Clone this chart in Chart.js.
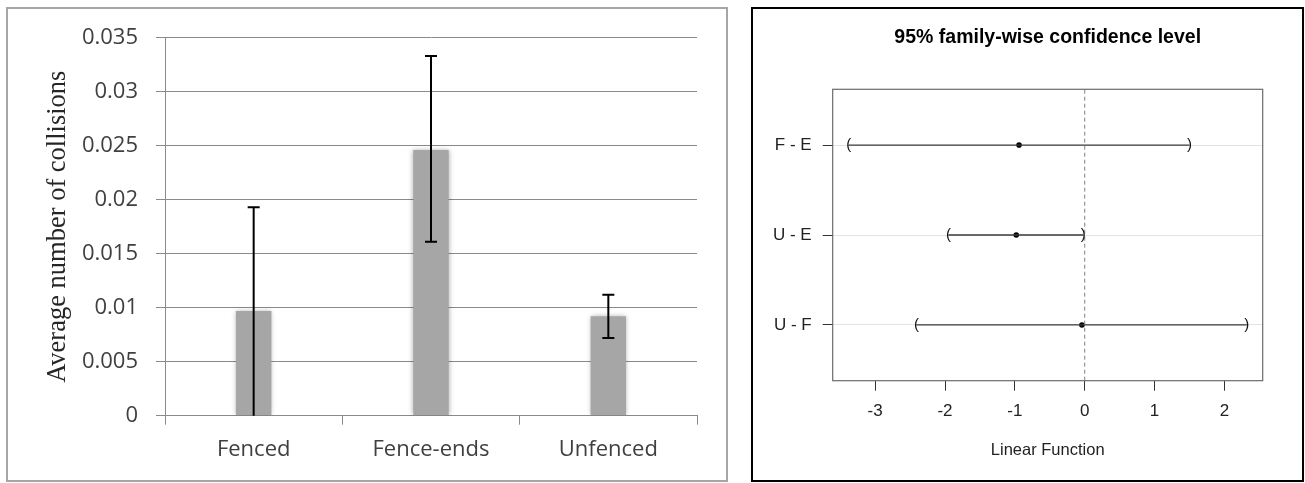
<!DOCTYPE html>
<html>
<head>
<meta charset="utf-8">
<script src="https://cdn.jsdelivr.net/npm/chart.js@4.4.0/dist/chart.umd.min.js"></script>
<style>
html, body { margin: 0; padding: 0; background: #fff; }
body { width: 1305px; height: 483px; position: relative; overflow: hidden; }
#boxLeft { position: absolute; left: 6px; top: 7px; width: 718px; height: 471px; border: 2px solid #a6a6a6; }
#boxRight { position: absolute; left: 751px; top: 7px; width: 549px; height: 471px; border: 2px solid #000; }
#barChart { position: absolute; left: 0; top: 0; }
#tukeyChart { position: absolute; left: 740px; top: 0; }
</style>
</head>
<body>
<div id="boxLeft"></div>
<div id="boxRight"></div>
<canvas id="barChart" width="740" height="483"></canvas>
<canvas id="tukeyChart" width="565" height="483"></canvas>
<script>
// left panel: mean collisions per site type
const categories = ['Fenced', 'Fence-ends', 'Unfenced'];
const means = [0.0097, 0.0246, 0.0092];
const errLow = [0, 0.0161, 0.0072];
const errHigh = [0.0193, 0.0333, 0.0112];

// right panel: Tukey HSD comparisons
const comparisons = ['F - E', 'U - E', 'U - F'];
const diffs = [-0.94, -0.98, -0.04];
const lowers = [-3.38, -1.95, -2.41];
const uppers = [1.50, -0.02, 2.32];
const xTickValues = [-3, -2, -1, 0, 1, 2];

const gridGray = '#8a8a8a';
const labelFont = { family: 'Open Sans', size: 22 };

// soft shadow on bars + error bars on top
const barExtras = {
    id: 'barExtras',
    beforeDatasetsDraw(chart) {
        const ctx = chart.ctx;
        ctx.save();
        ctx.shadowColor = 'rgba(0,0,0,0.35)';
        ctx.shadowBlur = 5;
    },
    afterDatasetsDraw(chart) {
        const ctx = chart.ctx;
        ctx.restore();
        const x = chart.scales.x, y = chart.scales.y;
        ctx.save();
        ctx.strokeStyle = '#000';
        ctx.lineWidth = 2;
        categories.forEach((c, i) => {
            const px = x.getPixelForValue(i);
            const top = y.getPixelForValue(errHigh[i]);
            const bot = y.getPixelForValue(errLow[i]);
            ctx.beginPath();
            ctx.moveTo(px, top); ctx.lineTo(px, bot);
            ctx.moveTo(px - 6, top); ctx.lineTo(px + 6, top);
            if (errLow[i] > 0) { ctx.moveTo(px - 6, bot); ctx.lineTo(px + 6, bot); }
            ctx.stroke();
        });
        ctx.restore();
    }
};

new Chart(document.getElementById('barChart').getContext('2d'), {
    type: 'bar',
    data: {
        labels: categories,
        datasets: [{
            data: means,
            backgroundColor: '#a6a6a6',
            categoryPercentage: 1,
            barPercentage: 0.2
        }]
    },
    options: {
        responsive: false,
        animation: false,
        layout: { padding: { top: 37.7, right: 43, left: 0, bottom: 0 } },
        plugins: { legend: { display: false }, tooltip: { enabled: false } },
        scales: {
            x: {
                grid: { drawOnChartArea: false, tickLength: 9, tickColor: gridGray, offset: true },
                border: { color: gridGray },
                ticks: { font: labelFont, color: '#404040', padding: 12 },
                afterFit(s) { s.height = 67.3; }
            },
            y: {
                min: 0,
                max: 0.035,
                ticks: {
                    stepSize: 0.005,
                    font: labelFont,
                    color: '#404040',
                    padding: 18,
                    callback: v => String(parseFloat(v.toFixed(4)))
                },
                grid: { color: gridGray, tickColor: gridGray, tickLength: 9 },
                border: { color: gridGray },
                title: {
                    display: true,
                    text: 'Average number of collisions',
                    font: { family: 'Liberation Serif', size: 26.5 },
                    color: '#262626',
                    padding: { top: 42, bottom: 0 }
                },
                afterFit(s) { s.width = 165; }
            }
        }
    },
    plugins: [barExtras]
});

// R style axis limits: 4% extension each side
const n = comparisons.length;
const rowY = comparisons.map((c, i) => n - i);
const yMin = 0.5 - 0.04 * n, yMax = n + 0.5 + 0.04 * n;
const lo = Math.min(...lowers), hi = Math.max(...uppers);
const xMin = lo - 0.04 * (hi - lo), xMax = hi + 0.04 * (hi - lo);

const tukeyExtras = {
    id: 'tukeyExtras',
    beforeDatasetsDraw(chart) {
        const { ctx, chartArea: a } = chart;
        ctx.save();
        ctx.strokeStyle = '#6b6b6b';
        ctx.lineWidth = 1.2;
        ctx.strokeRect(a.left, a.top, a.right - a.left, a.bottom - a.top);
        ctx.restore();
    },
    afterDatasetsDraw(chart) {
        const { ctx, scales: { x, y } } = chart;
        ctx.save();
        ctx.fillStyle = '#111';
        ctx.font = '15px "Liberation Sans"';
        ctx.textAlign = 'center';
        ctx.textBaseline = 'middle';
        comparisons.forEach((c, i) => {
            const py = y.getPixelForValue(rowY[i]);
            ctx.fillText('(', x.getPixelForValue(lowers[i]), py);
            ctx.fillText(')', x.getPixelForValue(uppers[i]), py);
        });
        ctx.restore();
    }
};

const intervalSets = comparisons.map((c, i) => ({
    data: [{ x: lowers[i], y: rowY[i] }, { x: uppers[i], y: rowY[i] }],
    showLine: true,
    borderColor: '#3a3a3a',
    borderWidth: 1.3,
    pointRadius: 0
}));

new Chart(document.getElementById('tukeyChart').getContext('2d'), {
    type: 'scatter',
    data: {
        datasets: [
            {
                data: [{ x: 0, y: yMin }, { x: 0, y: yMax }],
                showLine: true,
                borderColor: '#808080',
                borderWidth: 1,
                borderDash: [4, 3],
                pointRadius: 0
            },
            ...intervalSets,
            {
                data: diffs.map((d, i) => ({ x: d, y: rowY[i] })),
                pointRadius: 2.8,
                backgroundColor: '#000',
                borderWidth: 0
            }
        ]
    },
    options: {
        responsive: false,
        animation: false,
        layout: { padding: { top: 0, right: 42.3, left: 0, bottom: 0 } },
        plugins: {
            legend: { display: false },
            tooltip: { enabled: false },
            title: {
                display: true,
                text: '95% family-wise confidence level',
                font: { family: 'Liberation Sans', size: 19.5, weight: 'bold' },
                color: '#000',
                fullSize: false,
                padding: { top: 26.3, bottom: 39.6 }
            }
        },
        scales: {
            x: {
                min: xMin,
                max: xMax,
                afterBuildTicks(axis) { axis.ticks = xTickValues.map(v => ({ value: v })); },
                ticks: { font: { family: 'Liberation Sans', size: 17 }, color: '#222', padding: 10.8 },
                grid: { drawOnChartArea: false, tickLength: 10, tickColor: '#333' },
                border: { display: false },
                title: {
                    display: true,
                    text: 'Linear Function',
                    font: { family: 'Liberation Sans', size: 16.5 },
                    color: '#222',
                    padding: { top: 0, bottom: 22.4 }
                },
                afterFit(s) { s.height = 102.3; }
            },
            y: {
                min: yMin,
                max: yMax,
                afterBuildTicks(axis) { axis.ticks = rowY.map(v => ({ value: v })); },
                ticks: {
                    font: { family: 'Liberation Sans', size: 17 },
                    color: '#222',
                    padding: 11,
                    callback: v => comparisons[n - v]
                },
                grid: { color: '#e3e3e3', tickColor: '#333', tickLength: 10 },
                border: { display: false },
                afterFit(s) { s.width = 92.7; }
            }
        }
    },
    plugins: [tukeyExtras]
});
</script>
</body>
</html>
